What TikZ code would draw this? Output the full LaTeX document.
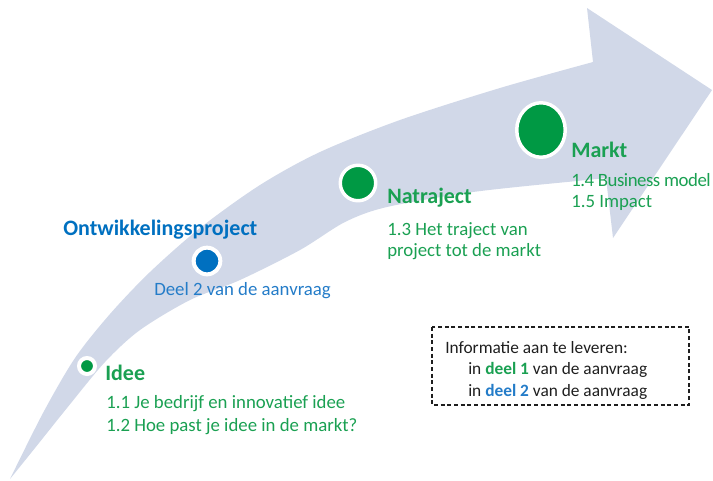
\documentclass[tikz,border=0pt]{standalone}
\usepackage{fontspec}
\setmainfont{Carlito}
\usetikzlibrary{shapes.geometric}

\definecolor{groen}{RGB}{0,153,68}
\definecolor{tgroen}{RGB}{26,160,82}
\definecolor{blauw}{RGB}{0,112,192}
\definecolor{tblauw}{RGB}{36,124,200}
\definecolor{pijlgrijs}{RGB}{209,216,232}
\definecolor{tzwart}{RGB}{30,30,30}

\begin{document}
\begin{tikzpicture}[x=0.75pt,y=-0.75pt]
        \tikzstyle{every node} = [inner sep=0pt, anchor=base west]
        \tikzstyle{stip} = [circle, draw=white, anchor=center]
        \tikzstyle{kop} = [font=\fontsize{16.5}{20}\selectfont\bfseries]
        \tikzstyle{regel} = [font=\fontsize{14.1}{17}\selectfont]
        \tikzstyle{info} = [font=\fontsize{13}{16}\selectfont, text=tzwart]
        \useasboundingbox (0,0) rectangle (713,480);

        % grote gebogen pijl
        \fill[pijlgrijs] plot[smooth] coordinates {(10,479) (43,413) (75,358) (110,314) (150,272) (200,228) (260,185) (320,152) (400,120) (500,88) (593,62)}
            -- (587,8) -- (712,90) -- (613,238) -- (606,178)
            -- plot[smooth] coordinates {(567,182) (473,192) (387,207) (345,222) (300,250) (240,280) (190,300) (140,330) (105,362) (67,408) (35,448) (10,479)} -- cycle;

        % stippen op de pijl
        \node[stip, fill=groen, line width=3pt, minimum size=12pt] (s1) at (87,366) {};
        \node[stip, fill=blauw, line width=3pt, minimum size=20pt] (s2) at (207,261) {};
        \node[stip, fill=groen, line width=2.6pt, minimum size=26.6pt] (s3) at (358,183) {};
        \node[stip, ellipse, fill=groen, line width=2.6pt, minimum width=36.4pt, minimum height=40.9pt] (s4) at (541,130) {};

        % Idee
        \node[kop, text=tgroen] (idee) at (105,380) {Idee};
        \node[regel, text=tgroen] (idee1) at (106,408) {1.1 Je bedrijf en innovatief idee};
        \node[regel, text=tgroen] (idee2) at (106,431) {1.2 Hoe past je idee in de markt?};

        % Ontwikkelingsproject
        \node[kop, text=blauw] (ontw) at (63,235) {Ontwikkelingsproject};
        \node[regel, text=tblauw] (ontw1) at (154,295) {Deel 2 van de aanvraag};

        % Natraject
        \node[kop, text=tgroen] (natr) at (387,203) {Natraject};
        \node[regel, text=tgroen] (natr1) at (387,235) {1.3 Het traject van};
        \node[regel, text=tgroen] (natr2) at (387,256) {project tot de markt};

        % Markt
        \node[kop, text=tgroen] (markt) at (571,157) {Markt};
        \node[regel, text=tgroen] (markt1) at (571,186) {\addfontfeatures{LetterSpace=-2.5}1.4 Business model};
        \node[regel, text=tgroen] (markt2) at (571,207) {1.5 Impact};

        % legenda
        \draw[tzwart, line width=0.9pt, dash pattern=on 3pt off 2pt] (432,327) rectangle (689,405);
        \node[info] (leg) at (445,353) {Informatie aan te leveren:};
        \node[info] (leg1) at (468,374) {in \textcolor{tgroen}{\bfseries deel 1} van de aanvraag};
        \node[info] (leg2) at (468,396) {in \textcolor{tblauw}{\bfseries deel 2} van de aanvraag};
\end{tikzpicture}
\end{document}
